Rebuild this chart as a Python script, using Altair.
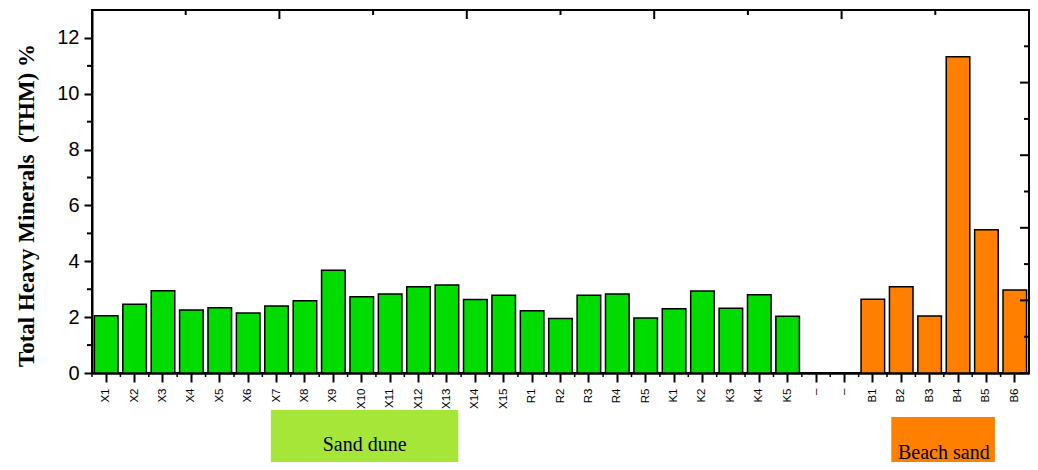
import altair as alt
import pandas as pd

# ---- data ----
categories = ["X1", "X2", "X3", "X4", "X5", "X6", "X7", "X8", "X9", "X10",
              "X11", "X12", "X13", "X14", "X15", "R1", "R2", "R3", "R4", "R5",
              "K1", "K2", "K3", "K4", "K5", "gap1", "gap2",
              "B1", "B2", "B3", "B4", "B5", "B6"]

bar_cats = ["X1", "X2", "X3", "X4", "X5", "X6", "X7", "X8", "X9", "X10",
            "X11", "X12", "X13", "X14", "X15", "R1", "R2", "R3", "R4", "R5",
            "K1", "K2", "K3", "K4", "K5",
            "B1", "B2", "B3", "B4", "B5", "B6"]
thm = [2.05, 2.46, 2.95, 2.26, 2.34, 2.15, 2.40, 2.59, 3.68, 2.73,
       2.83, 3.09, 3.15, 2.63, 2.78, 2.23, 1.95, 2.78, 2.83, 1.97,
       2.30, 2.94, 2.32, 2.80, 2.03,
       2.64, 3.09, 2.04, 11.33, 5.13, 2.97]
groups = ["Sand dune"] * 25 + ["Beach sand"] * 6

y_major = [0, 2, 4, 6, 8, 10, 12]
y_minor = [1, 3, 5, 7, 9, 11]
sec_major = [0, 0.2, 0.4, 0.6, 0.8, 1.0]
sec_minor = [0.1, 0.3, 0.5, 0.7, 0.9]

GREEN = "#00dc00"
ORANGE = "#ff8000"
BOX_GREEN = "#a6e639"

W, H = 937, 363

bars_df = pd.DataFrame({"cat": bar_cats, "thm": thm, "group": groups})
cat_df = pd.DataFrame({"cat": categories})

yscale = alt.Scale(domain=[0, 13], nice=False, zero=True)
xscale = alt.Scale(type="band", domain=categories, paddingInner=0.17, paddingOuter=0.085)
xscale0 = alt.Scale(type="band", domain=categories, paddingInner=0, paddingOuter=0)

bars = alt.Chart(bars_df).mark_bar(stroke="black", strokeWidth=1.5).encode(
    x=alt.X("cat:N", scale=xscale, sort=categories,
            axis=alt.Axis(title=None, labelAngle=270, labelFontSize=11.5,
                          labelFont="Liberation Sans", labelColor="black",
                          labelPadding=6, tickSize=9, tickWidth=2, tickColor="black",
                          domainWidth=2.5, domainColor="black",
                          labelExpr="indexof(datum.value, 'gap') == 0 ? '\u2013' : datum.value")),
    y=alt.Y("thm:Q", scale=yscale,
            axis=alt.Axis(title="Total Heavy Minerals \u00a0(THM) %", values=y_major,
                          labelFontSize=20, labelFont="Liberation Sans", labelColor="black",
                          labelPadding=5, tickSize=8, tickWidth=2, tickColor="black",
                          domainWidth=2, domainColor="black", grid=False,
                          titleFont="Liberation Serif", titleFontWeight="bold",
                          titleFontSize=23, titleColor="black", titlePadding=18,
                          titleY=195)),
    color=alt.Color("group:N", scale=alt.Scale(domain=["Sand dune", "Beach sand"],
                                               range=[GREEN, ORANGE]), legend=None),
)

# minor ticks at band boundaries on x axis
x_minor = alt.Chart(cat_df).mark_rule(color="black", strokeWidth=1.5).encode(
    x=alt.X("cat:N", scale=xscale0, sort=categories, bandPosition=0, axis=None),
    y=alt.value(H), y2=alt.value(H + 4),
)

# minor ticks on left y axis
y_minor_layer = alt.Chart(pd.DataFrame({"v": y_minor})).mark_rule(color="black", strokeWidth=2).encode(
    y=alt.Y("v:Q", scale=yscale, axis=None),
    x=alt.value(-5), x2=alt.value(0),
)

sec_scale = alt.Scale(domain=[0, 1], nice=False, zero=False)
top_major = alt.Chart(pd.DataFrame({"t": sec_major})).mark_rule(color="black", strokeWidth=2).encode(
    x=alt.X("t:Q", scale=sec_scale, axis=None), y=alt.value(0), y2=alt.value(9))
top_minor = alt.Chart(pd.DataFrame({"t": sec_minor})).mark_rule(color="black", strokeWidth=2).encode(
    x=alt.X("t:Q", scale=sec_scale, axis=None), y=alt.value(0), y2=alt.value(5))
right_major = alt.Chart(pd.DataFrame({"t": sec_major})).mark_rule(color="black", strokeWidth=2).encode(
    y=alt.Y("t:Q", scale=sec_scale, axis=None), x=alt.value(W - 9), x2=alt.value(W))
right_minor = alt.Chart(pd.DataFrame({"t": sec_minor})).mark_rule(color="black", strokeWidth=2).encode(
    y=alt.Y("t:Q", scale=sec_scale, axis=None), x=alt.value(W - 5), x2=alt.value(W))

# group boxes below the axis
annotations = [
    # label, start cat, start band pos, end cat, end band pos, mid cat, mid band pos, colour, y top, text y
    ("Sand dune", "X7", 0.3, "X13", 0.9, "X10", 0.6, BOX_GREEN, 400, 435),
    ("Beach sand", "B2", 0.15, "B5", 0.8, "B4", 0.0, ORANGE, 407, 443),
]
ann_layers = []
for label, c0, b0, c1, b1, cm, bm, col, ytop, ty in annotations:
    d = pd.DataFrame({"c0": [c0], "c1": [c1], "cm": [cm], "label": [label]})
    box = alt.Chart(d).mark_rect(color=col).encode(
        x=alt.X("c0:N", scale=xscale0, bandPosition=b0, axis=None),
        x2=alt.X2("c1", bandPosition=b1),
        y=alt.value(ytop), y2=alt.value(H + 89),
    )
    txt = alt.Chart(d).mark_text(font="Liberation Serif", fontSize=20, color="black",
                                 align="center", baseline="middle").encode(
        x=alt.X("cm:N", scale=xscale0, bandPosition=bm, axis=None),
        y=alt.value(ty),
        text="label:N",
    )
    ann_layers += [box, txt]

chart = alt.layer(bars, x_minor, y_minor_layer, top_major, top_minor,
                  right_major, right_minor, *ann_layers).resolve_scale(
    x="independent", y="independent", color="independent"
).properties(
    width=W, height=H,
    autosize=alt.AutoSizeParams(type="none"),
    padding={"left": 84, "top": 2, "right": 1, "bottom": 89},
    background="white",
).configure_view(stroke="black", strokeWidth=2)

chart.save("out.html", embed_options={"renderer": "svg", "actions": False})
